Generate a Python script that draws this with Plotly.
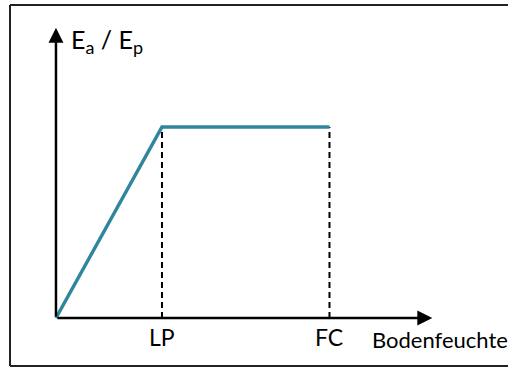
import plotly.graph_objects as go

# Data (conceptual units): soil moisture vs. Ea/Ep
moisture = [0.0, 1.0, 2.58]          # 0, LP, FC
ratio = [0.0, 1.0, 1.0]              # Ea/Ep
tick_pos = [1.0, 2.58]
tick_labels = ["LP", "FC"]
x_axis_end = 3.55
y_axis_end = 1.52
x_title = "Bodenfeuchte"
y_title = ("E<sub><span style='font-size:18px'>a</span></sub> / "
           "E<sub><span style='font-size:18px'>p</span></sub>")

W, H = 508, 367
x_range = [-0.528, 4.264]
y_range = [-0.2565, 1.665]

FONT = "Lato, 'Open Sans', sans-serif"
TEAL = "#31859C"

fig = go.Figure()

# dashed guide lines at LP and FC
for xp, yp in zip(moisture[1:], ratio[1:]):
    fig.add_trace(go.Scatter(
        x=[xp, xp], y=[0, yp], mode="lines",
        line=dict(color="black", width=2, dash="6px,4px"),
        hoverinfo="skip", showlegend=False))

# main curve
fig.add_trace(go.Scatter(
    x=moisture, y=ratio, mode="lines",
    line=dict(color=TEAL, width=3.5),
    showlegend=False))

annotations = []
# axis arrows
annotations.append(dict(x=x_axis_end, y=0, ax=0, ay=0, xref="x", yref="y",
                        axref="x", ayref="y", showarrow=True, arrowhead=2,
                        arrowsize=1.2, arrowwidth=2.5, arrowcolor="black", text=""))
annotations.append(dict(x=0, y=y_axis_end, ax=0, ay=0, xref="x", yref="y",
                        axref="x", ayref="y", showarrow=True, arrowhead=2,
                        arrowsize=1.2, arrowwidth=2.5, arrowcolor="black", text=""))
# tick labels
for tp, tl in zip(tick_pos, tick_labels):
    annotations.append(dict(x=tp, y=0, xref="x", yref="y", text=tl,
                            showarrow=False, yanchor="top", yshift=-3,
                            font=dict(family=FONT, size=23, color="black")))
# axis titles
annotations.append(dict(x=x_axis_end, y=0, xref="x", yref="y", text=x_title,
                        showarrow=False, xanchor="left", yanchor="top",
                        xshift=-61, yshift=-7, borderwidth=0,
                        font=dict(family=FONT, size=22, color="black")))
annotations.append(dict(x=0, y=y_axis_end, xref="x", yref="y", text=y_title,
                        showarrow=False, xanchor="left", yanchor="middle",
                        xshift=13, yshift=-13,
                        font=dict(family=FONT, size=25, color="black")))

# frame: left, top, bottom edges (right edge lies outside the picture)
frame_left, frame_top, frame_bottom = 10 / W, 1 - 5 / H, 1 - 366 / H
frame_style = dict(color="#222222", width=2)
shapes = [
    dict(type="line", xref="paper", yref="paper", x0=frame_left, x1=frame_left,
         y0=frame_bottom, y1=frame_top, line=frame_style),
    dict(type="line", xref="paper", yref="paper", x0=frame_left, x1=1.0,
         y0=frame_top, y1=frame_top, line=frame_style),
    dict(type="line", xref="paper", yref="paper", x0=frame_left, x1=1.0,
         y0=frame_bottom, y1=frame_bottom, line=frame_style),
]

fig.update_layout(
    width=W, height=H,
    margin=dict(l=0, r=0, t=0, b=0),
    paper_bgcolor="white", plot_bgcolor="white",
    xaxis=dict(range=x_range, visible=False, fixedrange=True),
    yaxis=dict(range=y_range, visible=False, fixedrange=True),
    annotations=annotations,
    shapes=shapes,
)

fig.write_html(
    "out.html", config={"displayModeBar": False},
    post_script=("document.body.style.margin='0';"
                 "document.body.style.overflow='hidden';"
                 "document.documentElement.style.overflow='hidden';"))
